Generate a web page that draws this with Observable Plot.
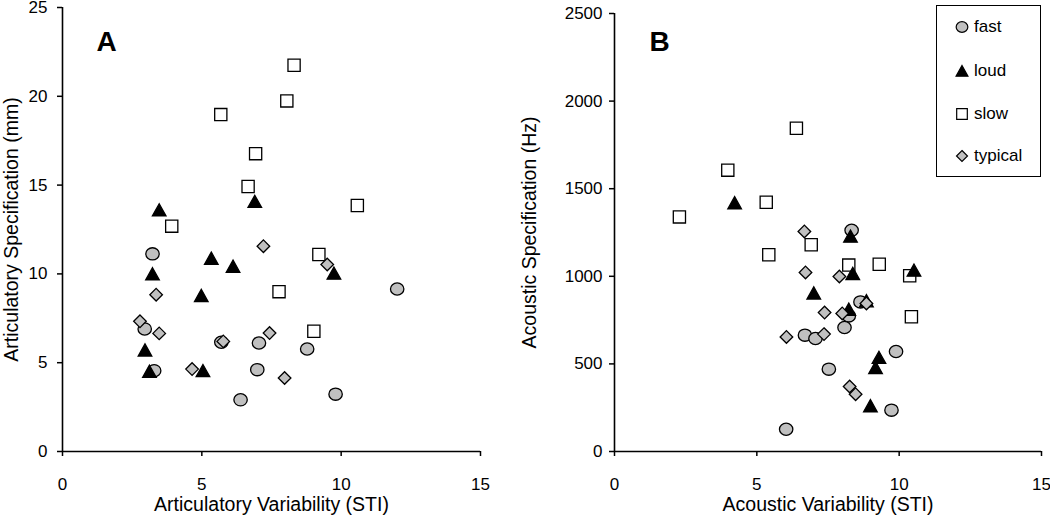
<!DOCTYPE html>
<html>
<head>
<meta charset="utf-8">
<script src="https://cdn.jsdelivr.net/npm/d3@7"></script>
<script src="https://cdn.jsdelivr.net/npm/@observablehq/plot@0.6"></script>
<style>
  body { margin: 0; background: #fff; }
  #wrap { position: relative; width: 1050px; height: 519px; display: flex; font-family: "Liberation Sans", Arial, sans-serif; }
  #legend { position: absolute; left: 936px; top: 5px; width: 105px; height: 172px; border: 1.5px solid #000; box-sizing: border-box; background: #fff; }
  .item { position: absolute; left: 0; height: 20px; display: flex; align-items: center; font-size: 17px; color: #000; }
  .item svg { margin-left: 17px; margin-right: 4px; overflow: visible; }
</style>
</head>
<body>
<div id="wrap"><div id="left"></div><div id="right"></div><div id="legend"></div></div>
<script>
// ---------- data ----------
const seriesNames = ["fast", "loud", "slow", "typical"];

// Panel A: articulatory
const artFastX = [3.23, 12.01, 2.95, 5.70, 7.05, 8.78, 3.29, 6.99, 6.39, 9.80];
const artFastY = [11.13, 9.15, 6.90, 6.15, 6.11, 5.77, 4.55, 4.61, 2.91, 3.23];
const artLoudX = [3.47, 6.90, 5.34, 6.12, 3.23, 9.74, 4.98, 2.96, 3.12, 5.04];
const artLoudY = [13.6, 14.08, 10.88, 10.43, 10.0, 10.04, 8.78, 5.71, 4.51, 4.55];
const artSlowX = [8.31, 8.05, 5.68, 6.93, 6.66, 10.58, 3.92, 9.20, 7.77, 9.02];
const artSlowY = [21.75, 19.74, 18.97, 16.77, 14.92, 13.85, 12.69, 11.09, 9.0, 6.77];
const artTypX = [7.21, 9.50, 3.36, 2.78, 3.47, 7.43, 5.77, 4.65, 7.97];
const artTypY = [11.56, 10.53, 8.83, 7.33, 6.65, 6.67, 6.20, 4.64, 4.14];

// Panel B: acoustic
const acFastX = [8.33, 8.64, 8.23, 8.08, 6.69, 7.06, 9.89, 7.53, 9.73, 6.03];
const acFastY = [1263, 854, 774, 708, 664, 645, 571, 470, 236, 127];
const acLoudX = [4.22, 8.29, 8.37, 10.52, 7.00, 8.23, 8.85, 9.29, 9.17, 8.99];
const acLoudY = [1419, 1229, 1016, 1035, 904, 812, 860, 537, 479, 261];
const acSlowX = [6.39, 3.98, 2.28, 5.33, 5.42, 6.91, 8.23, 9.30, 10.37, 10.43];
const acSlowY = [1845, 1606, 1339, 1423, 1123, 1180, 1064, 1069, 1003, 769];
const acTypX = [6.67, 6.71, 7.90, 8.85, 7.38, 8.00, 6.04, 7.36, 8.26, 8.47];
const acTypY = [1256, 1022, 999, 845, 793, 788, 654, 670, 371, 327];

const xTicks = [0, 5, 10, 15];
const artYTicks = [0, 5, 10, 15, 20, 25];
const acYTicks = [0, 500, 1000, 1500, 2000, 2500];

// ---------- symbols ----------
const sc = size => Math.sqrt(size / Math.PI) / 7;
const symEllipse = { draw(c, size) { const s = sc(size), rx = 6.7 * s, ry = 6.1 * s, k = 0.5523;
  c.moveTo(rx, 0);
  c.bezierCurveTo(rx, ry * k, rx * k, ry, 0, ry);
  c.bezierCurveTo(-rx * k, ry, -rx, ry * k, -rx, 0);
  c.bezierCurveTo(-rx, -ry * k, -rx * k, -ry, 0, -ry);
  c.bezierCurveTo(rx * k, -ry, rx, -ry * k, rx, 0);
  c.closePath(); } };
const symTriangle = { draw(c, size) { const s = sc(size);
  c.moveTo(0, -6.2 * s); c.lineTo(6.8 * s, 6.0 * s); c.lineTo(-6.8 * s, 6.0 * s); c.closePath(); } };
const symSquare = { draw(c, size) { const s = sc(size), h = 6.1 * s;
  c.moveTo(-h, -h); c.lineTo(h, -h); c.lineTo(h, h); c.lineTo(-h, h); c.closePath(); } };
const symDiamond = { draw(c, size) { const s = sc(size), h = 6.3 * s;
  c.moveTo(0, -h); c.lineTo(h, 0); c.lineTo(0, h); c.lineTo(-h, 0); c.closePath(); } };

const styleOf = {
  fast:    { symbol: symEllipse,  fill: "#c0c0c0" },
  loud:    { symbol: symTriangle, fill: "#000000" },
  slow:    { symbol: symSquare,   fill: "#ffffff" },
  typical: { symbol: symDiamond,  fill: "#c0c0c0" }
};

const zip = (xs, ys) => xs.map((x, i) => ({ x, y: ys[i] }));
const drawOrder = ["slow", "fast", "loud", "typical"];

function panel({ width, marginLeft, marginRight, marginTop, yDomain, yTicks, tickPad, series, xLabel, yLabel, yLabelDx, letter, letterDx, letterDy }) {
  const dots = drawOrder.map(name => Plot.dot(series[name], {
    x: "x", y: "y", r: 7, symbol: styleOf[name].symbol,
    fill: styleOf[name].fill, stroke: "#000", strokeWidth: 1.3
  }));
  return Plot.plot({
    width, height: 519, marginLeft, marginRight, marginTop, marginBottom: 68,
    style: { background: "white", color: "black", fontFamily: "'Liberation Sans', Arial, sans-serif", fontSize: "17px", overflow: "visible" },
    x: { domain: [0, 15] },
    y: { domain: yDomain },
    marks: [
      Plot.axisX({ ticks: xTicks, tickSize: 5, tickPadding: 21, strokeWidth: 1.5, fontSize: 17, label: null, tickFormat: d => String(d) }),
      Plot.axisY({ ticks: yTicks, tickSize: 5, tickPadding: tickPad, strokeWidth: 1.5, fontSize: 17, label: null, tickFormat: d => String(d) }),
      Plot.ruleY([0], { stroke: "#000", strokeWidth: 1.6 }),
      Plot.ruleX([0], { stroke: "#000", strokeWidth: 1.6 }),
      Plot.text([xLabel], { frameAnchor: "bottom", dy: 59, fontSize: 19.5, textAnchor: "middle", text: d => d }),
      Plot.text([yLabel], { frameAnchor: "left", dx: yLabelDx, rotate: -90, fontSize: 19.5, textAnchor: "middle", text: d => d }),
      Plot.text([letter], { frameAnchor: "top-left", dx: letterDx, dy: letterDy, fontSize: 28, fontWeight: "bold", textAnchor: "middle", text: d => d }),
      ...dots
    ]
  });
}

const left = panel({
  width: 512, marginLeft: 62, marginRight: 32, marginTop: 7,
  yDomain: [0, 25], yTicks: artYTicks, tickPad: 10,
  series: { fast: zip(artFastX, artFastY), loud: zip(artLoudX, artLoudY), slow: zip(artSlowX, artSlowY), typical: zip(artTypX, artTypY) },
  xLabel: "Articulatory Variability (STI)", yLabel: "Articulatory Specification (mm)", yLabelDx: -51,
  letter: "A", letterDx: 44, letterDy: 24
});
const right = panel({
  width: 538, marginLeft: 102, marginRight: 9, marginTop: 13,
  yDomain: [0, 2500], yTicks: acYTicks, tickPad: 7,
  series: { fast: zip(acFastX, acFastY), loud: zip(acLoudX, acLoudY), slow: zip(acSlowX, acSlowY), typical: zip(acTypX, acTypY) },
  xLabel: "Acoustic Variability (STI)", yLabel: "Acoustic Specification (Hz)", yLabelDx: -85,
  letter: "B", letterDx: 45, letterDy: 18
});
document.getElementById("left").appendChild(left);
document.getElementById("right").appendChild(right);

// ---------- legend ----------
const legend = document.getElementById("legend");
const legendTops = [11, 55, 98, 140];
seriesNames.forEach((name, i) => {
  const item = document.createElement("div");
  item.className = "item";
  item.style.top = legendTops[i] + "px";
  const d = d3.symbol(styleOf[name].symbol, Math.PI * 6.1 * 6.1)();
  item.innerHTML = `<svg width="16" height="16" viewBox="-8 -8 16 16"><path d="${d}" fill="${styleOf[name].fill}" stroke="#000" stroke-width="1.2"></path></svg><span>${name}</span>`;
  legend.appendChild(item);
});
</script>
</body>
</html>
